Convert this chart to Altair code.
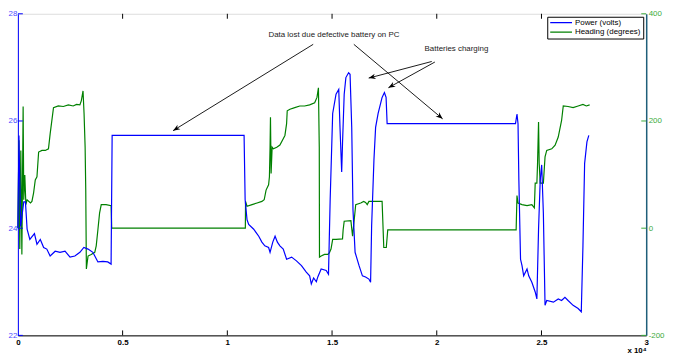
import math
import altair as alt
import pandas as pd

# ---------------- data (time in units of 1e4) ----------------
power_t = [0, 0.005, 0.013, 0.028, 0.036, 0.044, 0.057, 0.079, 0.091, 0.107,
           0.123, 0.138, 0.154, 0.178, 0.201, 0.225, 0.249, 0.272, 0.296, 0.315,
           0.335, 0.358, 0.382, 0.406, 0.429, 0.445, 0.450,
           1.080, 1.085, 1.094, 1.102, 1.126, 1.150, 1.165, 1.179, 1.197, 1.204,
           1.217, 1.228, 1.239, 1.251, 1.267, 1.283, 1.307, 1.330, 1.354, 1.377,
           1.393, 1.401, 1.412, 1.425, 1.432, 1.448, 1.472, 1.483,
           1.491, 1.503, 1.519, 1.532, 1.538, 1.546, 1.550, 1.558, 1.566, 1.579,
           1.586, 1.594, 1.600, 1.610, 1.629, 1.645, 1.660, 1.676, 1.684, 1.689,
           1.700, 1.708, 1.720, 1.739, 1.750, 1.758, 1.763,
           2.376, 2.383, 2.388, 2.392, 2.400, 2.407, 2.415, 2.431,
           2.439, 2.454, 2.470, 2.478, 2.486, 2.494, 2.501, 2.509, 2.517, 2.525,
           2.557, 2.580, 2.596, 2.612, 2.627, 2.651, 2.675, 2.690, 2.698, 2.706,
           2.717, 2.726]
power_v = [24.01, 25.73, 24.03, 24.49, 24.49, 23.98, 23.79, 23.90, 23.70, 23.79,
           23.64, 23.61, 23.48, 23.57, 23.55, 23.57, 23.46, 23.48, 23.55, 23.64,
           23.61, 23.55, 23.37, 23.38, 23.37, 23.33, 25.73,
           25.73, 24.53, 24.16, 24.07, 23.98, 23.85, 23.74, 23.67, 23.64, 23.55,
           23.74, 23.85, 23.74, 23.67, 23.61, 23.42, 23.46, 23.39, 23.30, 23.18,
           23.11, 22.96, 23.07, 23.00, 23.09, 23.24, 23.21, 23.14,
           24.53, 26.14, 26.50, 26.59, 25.88, 25.05, 25.58, 26.50, 26.81, 26.90,
           26.87, 25.88, 24.34, 23.55, 23.30, 23.11, 23.09, 23.05, 22.99, 24.04,
           25.27, 25.88, 26.14, 26.44, 26.53, 26.44, 25.95,
           25.95, 26.13, 25.95, 24.90, 23.42, 23.30, 23.11, 23.24,
           23.11, 22.99, 22.81, 22.68, 23.98, 24.90, 25.18, 24.28, 22.56, 22.65,
           22.62, 22.68, 22.65, 22.71, 22.65, 22.56, 22.50, 22.44, 23.67, 25.21,
           25.61, 25.73]

heading_t = [0, 0.005, 0.009, 0.014, 0.019, 0.025, 0.028, 0.033, 0.038, 0.044,
             0.060, 0.067, 0.075, 0.083, 0.091, 0.099, 0.115, 0.131, 0.146, 0.154,
             0.170, 0.193, 0.217, 0.241, 0.264, 0.280, 0.296, 0.303, 0.311, 0.316,
             0.321, 0.324, 0.327, 0.335, 0.350, 0.367, 0.374, 0.382, 0.390, 0.398,
             0.421, 0.445, 0.448,
             1.086, 1.087, 1.094, 1.118, 1.142, 1.165, 1.176,
             1.185, 1.197, 1.201, 1.204, 1.206, 1.209, 1.214, 1.220, 1.236, 1.251,
             1.267, 1.275, 1.283, 1.286, 1.299, 1.322, 1.346, 1.369, 1.393, 1.417,
             1.428, 1.435, 1.439, 1.440, 1.448, 1.464, 1.480, 1.487, 1.495, 1.503,
             1.519, 1.550, 1.553, 1.558, 1.590, 1.598, 1.613, 1.637, 1.651, 1.660,
             1.668, 1.676, 1.692, 1.739, 1.747, 1.759, 1.766,
             2.379, 2.383, 2.388, 2.407, 2.431, 2.454, 2.466, 2.470, 2.478, 2.481,
             2.486, 2.489, 2.494, 2.509, 2.517, 2.525, 2.549, 2.565, 2.580, 2.596,
             2.604, 2.627, 2.651, 2.675, 2.698, 2.714, 2.730]
heading_deg = [0, 164, -39, 145, -49, 227, 53, 99, 44, 53,
               47, 50, 66, 90, 96, 142, 145, 145, 148, 176,
               225, 228, 227, 230, 228, 231, 230, 238, 256, 213,
               151, 71, -76, -52, -49, -45, -33, -3, 28, 44,
               44, 42, 0,
               0, 50, 41, 44, 47, 50, 53,
               71, 81, 96, 151, 207, 102, 151, 148, 151, 155,
               167, 173, 195, 219, 222, 225, 228, 228, 230, 234,
               244, 262, 151, -54, -52, -49, -49, -46, -39, -21,
               -21, -20, -3, 13, 14, -15, 44, 47, 50, 48,
               44, 50, 50, 50, -36, -36, -3,
               -3, 61, 47, 44, 42, 44, 38, 84, 84, 118,
               198, 121, 84, 84, 133, 145, 148, 155, 170, 201,
               228, 227, 225, 228, 231, 228, 230]

series_names = ["Power (volts)", "Heading (degrees)"]
series_colors = ["#0000ff", "#008000"]

x_tick_values = [0, 0.5, 1, 1.5, 2, 2.5, 3]
left_tick_values = [22, 24, 26, 28]
right_tick_values = [-200, 0, 200, 400]

ann_texts = ["Data lost due defective battery on PC", "Batteries charging"]
ann_text_t = [1.509, 2.094]
ann_text_v = [27.61, 27.34]

arrow_t1 = [1.410, 1.604, 1.976, 1.991]
arrow_v1 = [27.43, 27.43, 27.11, 27.10]
arrow_t2 = [0.741, 2.028, 1.675, 1.769]
arrow_v2 = [25.82, 26.04, 26.80, 26.62]

# ---------------- layout ----------------
W, H = 635, 325
X_DOM = [0, 3]
L_DOM = [22, 28]
R_DOM = [-200, 400]
FONT = "Liberation Sans"

df_power = pd.DataFrame({"t": power_t, "value": power_v})
df_power["series"] = series_names[0]
df_heading = pd.DataFrame({"t": heading_t, "value": heading_deg})
df_heading["series"] = series_names[1]

# arrowhead angles in screen space
px_t = W / (X_DOM[1] - X_DOM[0])
px_l = H / (L_DOM[1] - L_DOM[0])
angles = []
for a, b, c, d in zip(arrow_t1, arrow_v1, arrow_t2, arrow_v2):
    dx = (c - a) * px_t
    dy = -(d - b) * px_l
    angles.append(math.degrees(math.atan2(dy, dx)) % 360)
df_arrows = pd.DataFrame({"t": arrow_t1, "v": arrow_v1, "t2": arrow_t2,
                          "v2": arrow_v2, "ang": angles})
df_text = pd.DataFrame({"t": ann_text_t, "v": ann_text_v, "label": ann_texts})

xscale = alt.Scale(domain=X_DOM, nice=False, zero=False)
lscale = alt.Scale(domain=L_DOM, nice=False, zero=False)
rscale = alt.Scale(domain=R_DOM, nice=False, zero=False)

x_axis = alt.Axis(values=x_tick_values, labelExpr="datum.value", ticks=False,
                  grid=False, domainColor="black", labelColor="black",
                  labelFontSize=8, labelFontWeight="bold", labelPadding=3,
                  title="x 10⁴", titleFontSize=8, titleFontWeight="bold",
                  titleAnchor="end", titleAlign="right", titlePadding=0,
                  titleColor="black", labelFlush=False)
x_enc = alt.X("t:Q", scale=xscale, axis=x_axis)

color_enc = alt.Color(
    "series:N",
    scale=alt.Scale(domain=series_names, range=series_colors),
    legend=alt.Legend(title=None, orient="top-right", offset=3, padding=2,
                      strokeColor="black", fillColor="white",
                      labelFontSize=8, labelFont=FONT, labelOffset=2,
                      symbolType="stroke", symbolSize=484,
                      symbolStrokeWidth=1.3, clipHeight=8, rowPadding=1.5),
)

power_line = alt.Chart(df_power).mark_line(strokeWidth=1.2).encode(
    x=x_enc,
    y=alt.Y("value:Q", scale=lscale,
            axis=alt.Axis(orient="left", values=left_tick_values, ticks=False,
                          grid=False, title=None, domainColor="#0000ff",
                          labelColor="#4d4dff", labelFontSize=8, labelPadding=1)),
    color=color_enc,
)

heading_line = alt.Chart(df_heading).mark_line(strokeWidth=1.2).encode(
    x=x_enc,
    y=alt.Y("value:Q", scale=rscale,
            axis=alt.Axis(orient="right", values=right_tick_values, ticks=False,
                          grid=False, title=None, domainColor="#1f5f7a",
                          domainWidth=1.5, labelColor="#3cab3c",
                          labelFontSize=8, labelPadding=2,
                          labelExpr="datum.value")),
    color=color_enc,
)

inner_x = pd.DataFrame({"t": x_tick_values[1:-1]})
bottom_ticks = alt.Chart(inner_x).mark_rule(color="black").encode(
    x=x_enc, y=alt.value(H), y2=alt.value(H - 5))
top_ticks = alt.Chart(inner_x).mark_rule(color="black").encode(
    x=x_enc, y=alt.value(0), y2=alt.value(5))
left_ticks = alt.Chart(pd.DataFrame({"v": left_tick_values})).mark_rule(
    color="#0000ff").encode(
    y=alt.Y("v:Q", scale=lscale, axis=None), x=alt.value(0), x2=alt.value(5))
right_ticks = alt.Chart(pd.DataFrame({"v": right_tick_values})).mark_rule(
    color="#3cab3c").encode(
    y=alt.Y("v:Q", scale=rscale, axis=None), x=alt.value(W - 5), x2=alt.value(W))

arrow_lines = alt.Chart(df_arrows).mark_rule(color="black", strokeWidth=0.9).encode(
    x=x_enc, x2="t2:Q",
    y=alt.Y("v:Q", scale=lscale, axis=None), y2="v2:Q")
arrow_heads = alt.Chart(df_arrows).mark_point(
    shape="M0,0L-2,-0.8L-1.4,0L-2,0.8Z", filled=True, size=49,
    color="black", opacity=1).encode(
    x=alt.X("t2:Q", scale=xscale, axis=x_axis),
    y=alt.Y("v2:Q", scale=lscale, axis=None),
    angle=alt.Angle("ang:Q", scale=None))
ann = alt.Chart(df_text).mark_text(fontSize=8, font=FONT, color="#222222",
                                   align="center", baseline="middle").encode(
    x=x_enc, y=alt.Y("v:Q", scale=lscale, axis=None), text="label:N")

chart = alt.layer(
    heading_line, power_line, bottom_ticks, top_ticks, left_ticks, right_ticks,
    arrow_lines, arrow_heads, ann,
).resolve_scale(y="independent").properties(
    width=W, height=H,
    padding={"left": 0, "top": 0, "right": 0, "bottom": 0},
).configure_view(stroke="black", strokeWidth=1).configure(font=FONT)

chart.save("out.html", embed_options={"renderer": "svg", "actions": False})
